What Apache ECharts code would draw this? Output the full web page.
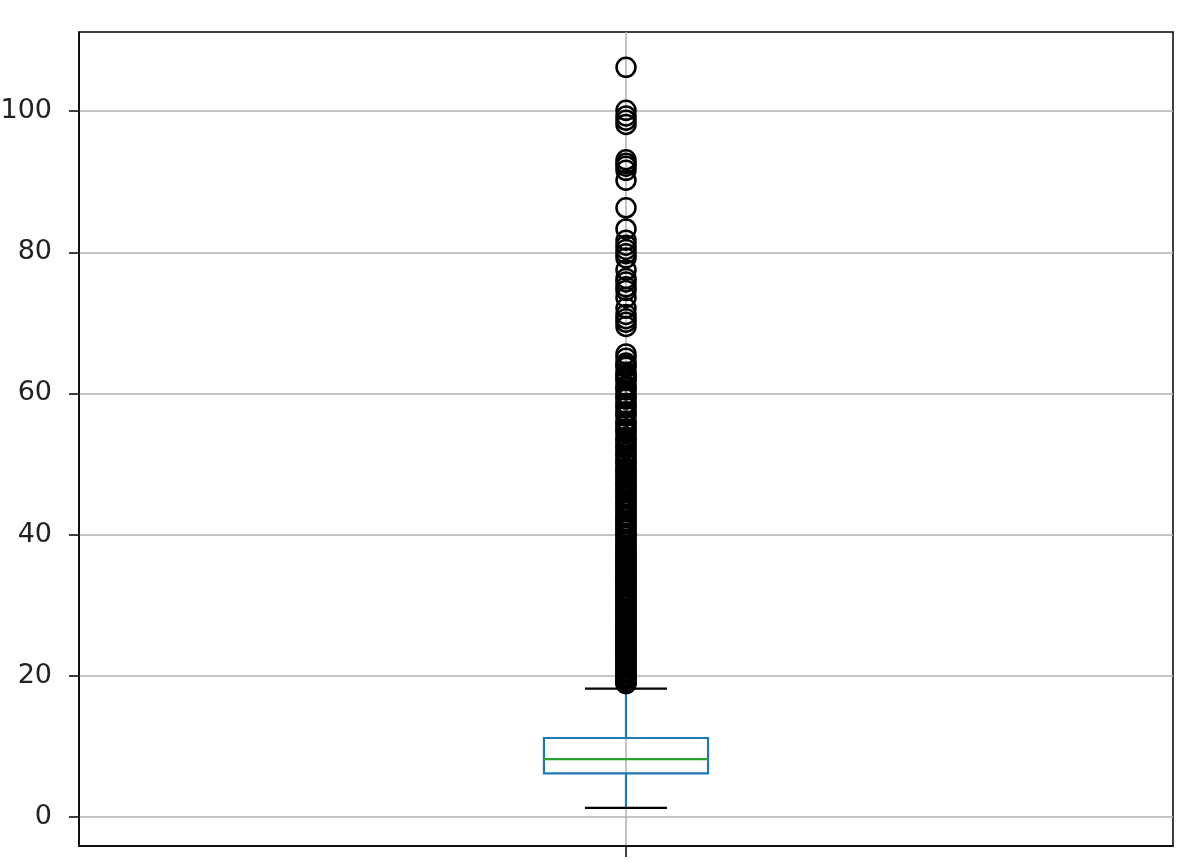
<!DOCTYPE html>
<html>
<head>
<meta charset="utf-8">
<script src="https://cdn.jsdelivr.net/npm/echarts@6/dist/echarts.min.js"></script>
<style>
  html, body { margin: 0; padding: 0; background: #fff; }
  #chart { width: 1196px; height: 862px; }
</style>
</head>
<body>
<div id="chart"></div>
<script>
// box stats: lower whisker, Q1, median, Q3, upper whisker
const boxStats = [1.3, 6.2, 8.2, 11.2, 18.2];
const yTicks = [0, 20, 40, 60, 80, 100];
// outliers (dense run + sparse top)
const outliersLow = [
  18.9, 19.2, 19.5, 19.8, 20.1, 20.4, 20.8, 21.1, 21.5, 21.8, 22.2, 22.5, 22.9, 23.3,
  23.6, 24.0, 24.4, 24.7, 25.1, 25.5, 25.8, 26.2, 26.6, 27.0, 27.3, 27.7, 28.1, 28.5,
  28.8, 29.2, 29.6, 30.0, 30.3, 30.7, 31.1, 31.5, 31.9, 32.2, 32.6, 33.0, 33.4, 33.8,
  34.1, 34.5, 34.9, 35.3, 35.7, 36.0, 36.4, 36.8, 37.2, 37.6, 38.0, 38.4, 38.9, 39.3,
  39.8, 40.2, 40.6, 41.1, 41.5, 42.0, 42.4, 42.8, 43.3, 43.8, 44.2, 44.7, 45.2, 45.6,
  46.1, 46.6, 47.0, 47.5, 48.0, 48.5, 48.9, 49.4, 50.0, 50.5, 51.0, 51.6, 52.1, 52.7,
  53.2, 53.8, 54.4, 55.0, 55.5, 56.1, 56.8, 57.4, 58.0, 58.6, 59.2, 59.9, 60.5, 61.1,
  61.8, 62.4, 63.0, 63.7, 64.3, 65.0, 65.6
];
const outliersLow2 = [
  19.0, 19.4, 19.7, 20.0, 20.6, 21.3, 22.0, 22.7, 23.1, 23.8, 24.2, 24.9, 25.3, 26.0,
  26.4, 26.8, 27.5, 28.3, 29.0, 29.4, 30.1, 30.9, 31.3, 32.0, 32.8, 33.2, 33.6, 34.3,
  35.1, 35.5, 36.2, 37.0, 37.4, 38.2, 39.1, 40.0, 40.9, 41.8, 42.6, 43.5, 44.5, 45.4,
  46.3, 47.2, 48.2, 49.2, 50.2, 51.3, 52.4, 53.5, 54.7, 55.8, 57.1, 58.3, 59.5, 60.8,
  62.1, 62.7, 64.0
];
const outliersHigh = [
  69.5, 70.1, 70.6, 71.2, 72.1, 73.6, 74.6, 75.1, 75.8, 76.3, 77.5, 79.2, 79.8, 80.4,
  81.0, 81.7, 83.3, 86.3, 90.2, 91.6, 92.2, 92.6, 93.1, 98.1, 98.7, 99.3, 100.1, 106.2
];

const chart = echarts.init(document.getElementById("chart"));
const font = "DejaVu Sans";
const pts = outliersLow.concat(outliersLow2, outliersHigh).map((v) => [1, v]);

chart.setOption({
  animation: false,
  grid: {
    left: 79, right: 23, top: 32, bottom: 16,
    outerBoundsMode: "none",
    containLabel: false,
    show: true, borderColor: "#000", borderWidth: 1.5,
  },
  xAxis: {
    type: "value",
    min: 0.5,
    max: 1.5,
    axisLine: { show: true, onZero: false, lineStyle: { color: "#000", width: 1.5 } },
    axisTick: { show: true, customValues: [1], length: 11, lineStyle: { color: "#000", width: 1.5 } },
    axisLabel: { show: false },
    splitLine: { show: true, lineStyle: { color: "#b0b0b0", width: 1.5 } },
  },
  yAxis: {
    type: "value",
    min: -4.1,
    max: 111.2,
    axisLine: { show: true, onZero: false, lineStyle: { color: "#000", width: 1.5 } },
    axisTick: { show: true, customValues: yTicks, length: 10, lineStyle: { color: "#000", width: 1.5 } },
    axisLabel: {
      customValues: yTicks,
      margin: 27,
      fontFamily: font,
      fontSize: 27,
      color: "#222",
    },
    splitLine: { show: true, lineStyle: { color: "#b0b0b0", width: 1.5 } },
  },
  series: [
    {
      type: "custom",
      data: [[1].concat(boxStats)],
      z: 2,
      renderItem: (params, api) => {
        const x = api.value(0);
        const lo = api.coord([x, api.value(1)]);
        const q1 = api.coord([x, api.value(2)]);
        const med = api.coord([x, api.value(3)]);
        const q3 = api.coord([x, api.value(4)]);
        const hi = api.coord([x, api.value(5)]);
        const bw = api.size([0.15, 0])[0];
        const cw = bw / 2;
        const cx = lo[0];
        const blue = { stroke: "#1f77b4", lineWidth: 2.2, fill: null };
        const black = { stroke: "#000", lineWidth: 2.2 };
        return {
          type: "group",
          children: [
            { type: "line", shape: { x1: cx, y1: lo[1], x2: cx, y2: q1[1] }, style: blue },
            { type: "line", shape: { x1: cx, y1: q3[1], x2: cx, y2: hi[1] }, style: blue },
            { type: "rect", shape: { x: cx - bw / 2, y: q3[1], width: bw, height: q1[1] - q3[1] }, style: blue },
            { type: "line", shape: { x1: cx - bw / 2, y1: med[1], x2: cx + bw / 2, y2: med[1] }, style: { stroke: "#2ca02c", lineWidth: 2.2 } },
            { type: "line", shape: { x1: cx - cw / 2, y1: lo[1], x2: cx + cw / 2, y2: lo[1] }, style: black },
            { type: "line", shape: { x1: cx - cw / 2, y1: hi[1], x2: cx + cw / 2, y2: hi[1] }, style: black },
          ],
        };
      },
    },
    {
      type: "scatter",
      data: pts,
      symbol: "circle",
      symbolSize: 19,
      z: 3,
      itemStyle: { color: "rgba(0,0,0,0)", borderColor: "#000", borderWidth: 2.5, opacity: 1 },
    },
  ],
});
</script>
</body>
</html>
